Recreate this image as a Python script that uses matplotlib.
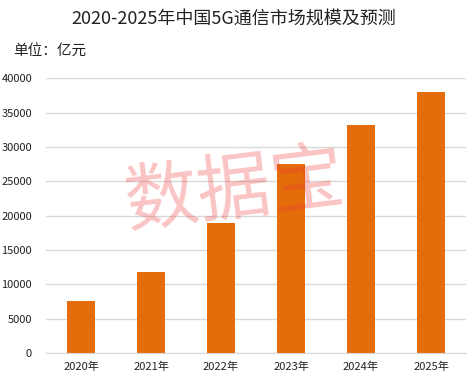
import matplotlib
matplotlib.use("Agg")
import matplotlib.pyplot as plt

plt.rcParams['font.family'] = ['Noto Sans CJK SC', 'DejaVu Sans']

# 数据
years = ["2020年", "2021年", "2022年", "2023年", "2024年", "2025年"]
market_size = [7600, 11800, 18900, 27500, 33200, 38000]
y_ticks = [0, 5000, 10000, 15000, 20000, 25000, 30000, 35000, 40000]

W, H = 467, 382
fig = plt.figure(figsize=(W / 100, H / 100), dpi=100)
ax = fig.add_axes([46 / W, 1 - 353 / H, 420 / W, (353 - 78.3) / H])

x = range(len(years))
ax.bar(x, market_size, width=0.4, color="#E46C0A", zorder=2)

ax.set_xlim(-0.5, len(years) - 0.5)
ax.set_ylim(0, 40000)
ax.set_yticks(y_ticks)
ax.set_yticklabels([str(v) for v in y_ticks], fontsize=8, color="#222222")
ax.set_xticks(list(x))
ax.set_xticklabels(years, fontsize=8, color="#222222")
ax.tick_params(length=0, pad=6)
ax.tick_params(axis="y", pad=10)

ax.yaxis.grid(True, color="#D9D9D9", linewidth=1, zorder=0)
for s in ["top", "right", "left"]:
    ax.spines[s].set_visible(False)
ax.spines["bottom"].set_color("#D9D9D9")

fig.text(0.5, 1 - 19 / H, "2020-2025年中国5G通信市场规模及预测",
         ha="center", va="center", fontsize=13, color="#222222")
fig.text(13 / W, 1 - 51 / H, "单位：亿元", ha="left", va="center",
         fontsize=10.5, color="#222222")

# 水印
fig.text(234 / W, 1 - 193 / H, "数据宝", ha="center", va="center",
         fontsize=53, color="#F03C3C", alpha=0.3, rotation=7, zorder=5)

fig.savefig("out.png", dpi=100)
